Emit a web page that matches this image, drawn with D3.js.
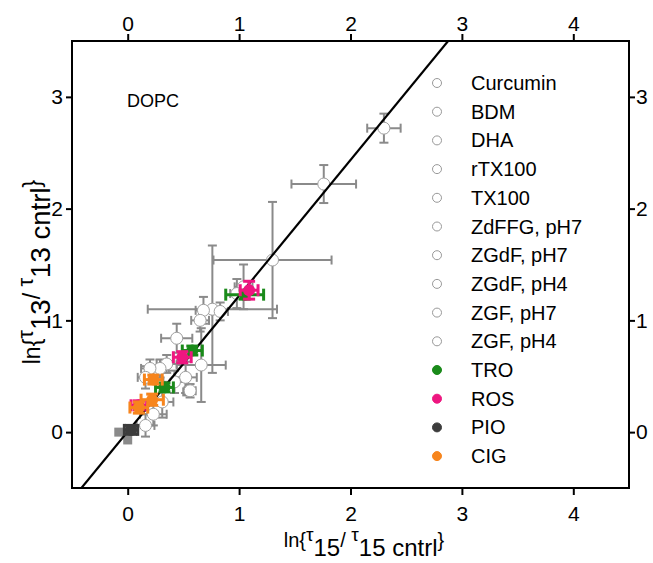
<!DOCTYPE html>
<html>
<head>
<meta charset="utf-8">
<script src="https://cdn.jsdelivr.net/npm/d3@7"></script>
<style>
  body { margin: 0; background: #fff; }
  text { font-family: "Liberation Sans", Arial, sans-serif; }
</style>
</head>
<body>
<div id="d3-container"></div>
<script>
/* CONSTANTS AND GLOBALS */
const width = 653,
  height = 563,
  margin = { top: 41, bottom: 75, left: 72, right: 24 };

// data [x, y, xerr, yerr]
const legendNames = ["Curcumin", "BDM", "DHA", "rTX100", "TX100", "ZdFFG, pH7",
  "ZGdF, pH7", "ZGdF, pH4", "ZGF, pH7", "ZGF, pH4", "TRO", "ROS", "PIO", "CIG"];
const legendColors = [null, null, null, null, null, null, null, null, null, null,
  "#1a8a1a", "#ee1680", "#3c3c3c", "#f7851d"];

const openPoints = [
  [2.30, 2.72, 0.15, 0.13],
  [1.76, 2.22, 0.29, 0.17],
  [1.30, 1.54, 0.53, 0.52],
  [1.04, 1.30, 0.08, 0.20],
  [0.98, 1.24, 0.06, 0.13],
  [0.76, 1.10, 0.58, 0.57],
  [0.68, 1.09, 0.07, 0.12],
  [0.83, 1.08, 0.07, 0.08],
  [0.65, 1.00, 0.08, 0.10],
  [0.44, 0.84, 0.14, 0.13],
  [0.66, 0.60, 0.22, 0.33],
  [0.52, 0.49, 0.10, 0.14],
  [0.35, 0.61, 0.09, 0.08],
  [0.29, 0.57, 0.08, 0.08],
  [0.20, 0.57, 0.08, 0.08],
  [0.16, 0.49, 0.07, 0.10],
  [0.42, 0.45, 0.10, 0.10],
  [0.31, 0.27, 0.10, 0.14],
  [0.23, 0.16, 0.12, 0.10],
  [0.16, 0.06, 0.08, 0.10],
  [0.56, 0.37, 0.05, 0.06]
];
const greySquares = [[-0.08, 0.00], [0.00, -0.07], [0.53, 0.36]];

const troPoints = [[1.05, 1.23, 0.17, 0.04], [0.58, 0.73, 0.09, 0.04], [0.33, 0.40, 0.08, 0.04]];
const rosPoints = [[1.09, 1.27, 0.08, 0.08], [0.49, 0.67, 0.08, 0.05], [0.10, 0.24, 0.07, 0.04]];
const pioPoints = [[0.03, 0.02, 0.06, 0.04]];
const cigPoints = [[0.23, 0.47, 0.08, 0.04], [0.22, 0.29, 0.10, 0.05], [0.10, 0.22, 0.08, 0.05]];

const xTicks = [0, 1, 2, 3, 4];
const yTicks = [0, 1, 2, 3];
const fitCoef = [1.215, 0.005]; // slope, intercept

/* SCALES */
const xScale = d3.scaleLinear().domain([-0.5, 4.5]).range([margin.left, width - margin.right - 0]);
const yScale = d3.scaleLinear().domain([-0.5, 3.5]).range([height - margin.bottom, margin.top]);

const svg = d3.select("#d3-container")
  .append("svg")
  .attr("width", width)
  .attr("height", height);

svg.append("clipPath").attr("id", "plotclip")
  .append("rect")
  .attr("x", xScale(-0.5)).attr("y", yScale(3.5))
  .attr("width", xScale(4.5) - xScale(-0.5))
  .attr("height", yScale(-0.5) - yScale(3.5));

// + AXES
function styleAxis(g) {
  g.select(".domain").remove();
  g.selectAll(".tick line").attr("stroke", "#000").attr("stroke-width", 2);
  g.selectAll(".tick text").attr("font-size", 21).attr("fill", "#000")
    .attr("font-family", "Liberation Sans, Arial, sans-serif");
}
svg.append("g")
  .attr("transform", `translate(0, ${yScale(-0.5)})`)
  .call(d3.axisBottom(xScale).tickValues(xTicks).tickSize(7).tickPadding(11).tickFormat(d3.format("d")))
  .call(styleAxis);
svg.append("g")
  .attr("transform", `translate(0, ${yScale(3.5)})`)
  .call(d3.axisTop(xScale).tickValues(xTicks).tickSize(7).tickPadding(3).tickFormat(d3.format("d")))
  .call(styleAxis);
svg.append("g")
  .attr("transform", `translate(${xScale(-0.5)}, 0)`)
  .call(d3.axisLeft(yScale).tickValues(yTicks).tickSize(6).tickPadding(3).tickFormat(d3.format("d")))
  .call(styleAxis);
svg.append("g")
  .attr("transform", `translate(${xScale(4.5)}, 0)`)
  .call(d3.axisRight(yScale).tickValues(yTicks).tickSize(6).tickPadding(1).tickFormat(d3.format("d")))
  .call(styleAxis);

const plot = svg.append("g").attr("clip-path", "url(#plotclip)");

// error bars
function errorBars(data, color, cap, sw) {
  const g = plot.append("g").attr("stroke", color).attr("stroke-width", sw).attr("fill", "none");
  data.forEach(d => {
    const cx = xScale(d[0]), cy = yScale(d[1]);
    const x0 = xScale(d[0] - d[2]), x1 = xScale(d[0] + d[2]);
    const y0 = yScale(d[1] - d[3]), y1 = yScale(d[1] + d[3]);
    g.append("line").attr("x1", x0).attr("x2", x1).attr("y1", cy).attr("y2", cy);
    g.append("line").attr("x1", cx).attr("x2", cx).attr("y1", y0).attr("y2", y1);
    [x0, x1].forEach(x => g.append("line").attr("x1", x).attr("x2", x).attr("y1", cy - cap / 2).attr("y2", cy + cap / 2));
    [y0, y1].forEach(y => g.append("line").attr("y1", y).attr("y2", y).attr("x1", cx - cap / 2).attr("x2", cx + cap / 2));
  });
}

errorBars(openPoints, "#8a8a8a", 9, 2);

plot.selectAll("rect.gsq")
  .data(greySquares)
  .join("rect")
  .attr("class", "gsq")
  .attr("x", d => xScale(d[0]) - 4.5)
  .attr("y", d => yScale(d[1]) - 4.5)
  .attr("width", 9).attr("height", 9)
  .attr("fill", "#8a8a8a");

plot.selectAll("circle.open")
  .data(openPoints)
  .join("circle")
  .attr("class", "open")
  .attr("cx", d => xScale(d[0]))
  .attr("cy", d => yScale(d[1]))
  .attr("r", 6)
  .attr("fill", "#fff")
  .attr("stroke", "#a0a0a0")
  .attr("stroke-width", 1);

// fit line
plot.append("line")
  .attr("x1", xScale(-0.5)).attr("y1", yScale(fitCoef[0] * -0.5 + fitCoef[1]))
  .attr("x2", xScale(4.5)).attr("y2", yScale(fitCoef[0] * 4.5 + fitCoef[1]))
  .attr("stroke", "#000").attr("stroke-width", 2.2);

const coloredSets = [[troPoints, legendColors[10]], [rosPoints, legendColors[11]],
  [pioPoints, legendColors[12]], [cigPoints, legendColors[13]]];
coloredSets.forEach(([data, color]) => {
  errorBars(data, color, 12, 3);
  plot.append("g").selectAll("circle")
    .data(data)
    .join("circle")
    .attr("cx", d => xScale(d[0]))
    .attr("cy", d => yScale(d[1]))
    .attr("r", 6)
    .attr("fill", color);
});

// frame
svg.append("rect")
  .attr("x", xScale(-0.5)).attr("y", yScale(3.5))
  .attr("width", xScale(4.5) - xScale(-0.5))
  .attr("height", yScale(-0.5) - yScale(3.5))
  .attr("fill", "none").attr("stroke", "#000").attr("stroke-width", 2);

// DOPC label
svg.append("text")
  .attr("x", 127).attr("y", 107)
  .attr("font-size", 18)
  .text("DOPC");

// legend
const legend = svg.append("g").attr("transform", "translate(437, 83)");
const rows = legend.selectAll("g")
  .data(legendNames)
  .join("g")
  .attr("transform", (d, i) => `translate(0, ${i * 28.7})`);
rows.append("circle")
  .attr("r", 4.5)
  .attr("fill", (d, i) => legendColors[i] || "#fff")
  .attr("stroke", (d, i) => legendColors[i] || "#999")
  .attr("stroke-width", 1);
rows.append("text")
  .attr("x", 34).attr("y", 7)
  .attr("font-size", 20)
  .text(d => d);

// axis titles
function tauLabel(sel, sub, k, down) {
  sel.attr("font-size", 20 * k);
  sel.append("tspan").text("ln{");
  sel.append("tspan").attr("font-size", 19 * k).attr("dy", -6 * k).text("τ");
  sel.append("tspan").attr("font-size", 24 * k).attr("dy", (6 + down) * k).text(sub);
  sel.append("tspan").attr("dy", -down * k).text("/ ");
  sel.append("tspan").attr("font-size", 19 * k).attr("dy", -6 * k).text("τ");
  sel.append("tspan").attr("font-size", 24 * k).attr("dy", (6 + down) * k).text(sub + " cntrl");
  sel.append("tspan").attr("dy", -down * k).text("}");
}
svg.append("text")
  .attr("x", 364).attr("y", 547)
  .attr("text-anchor", "middle")
  .call(tauLabel, "15", 1, 9);
svg.append("text")
  .attr("transform", "translate(40, 272) rotate(-90)")
  .attr("text-anchor", "middle")
  .call(tauLabel, "13", 1.15, 9);
</script>
</body>
</html>
